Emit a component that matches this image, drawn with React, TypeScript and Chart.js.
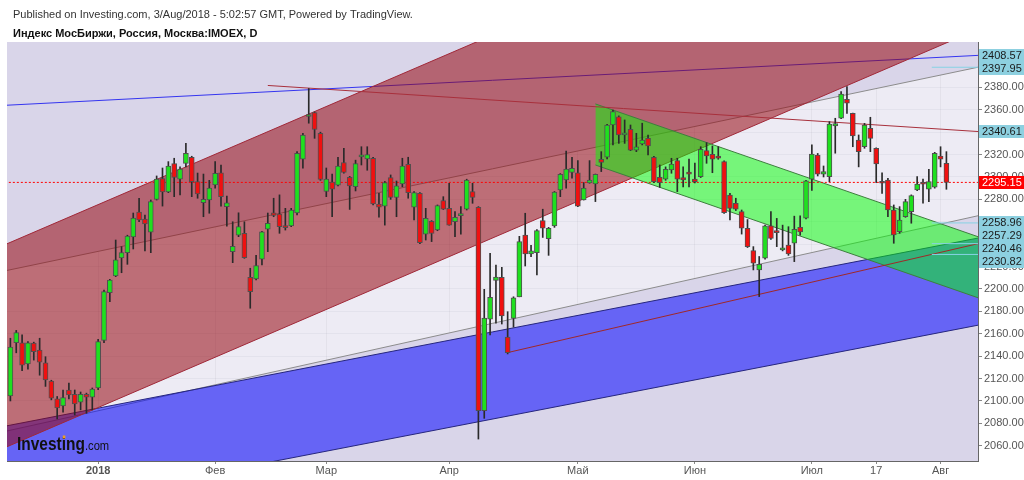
import React, { useEffect, useRef } from "react";
import { Chart, registerables } from "chart.js";
Chart.register(...registerables);

const FONT = "Arial, 'Liberation Sans', sans-serif";

// ---- OHLC data (one candle per trading day, index 0..160) ----
const opens = [
  2104.5, 2152, 2152, 2133, 2151.7, 2145.5, 2134, 2117.8, 2101.8, 2095.5,
  2109.8, 2106, 2099, 2106, 2103.5, 2111.6, 2154, 2196.7, 2211.6, 2227.7,
  2232.4, 2246.4, 2268.7, 2262.5, 2250.6, 2280, 2298.5, 2286.6, 2312, 2298,
  2312, 2317.6, 2295.8, 2277, 2279.4, 2293, 2303.8, 2273.5, 2233.3, 2248,
  2249.7, 2210.4, 2209, 2226.5, 2253.3, 2268, 2266.9, 2256, 2256.3, 2268,
  2315.8, 2354, 2357.4, 2339, 2287, 2295.5, 2292.6, 2312.8, 2299.7, 2291.3,
  2318, 2316, 2316.7, 2275.9, 2274, 2299.4, 2281.8, 2293.8, 2311.3, 2273,
  2285.4, 2249, 2260.4, 2252.7, 2278.9, 2272, 2260, 2265.5, 2271.2, 2286.9,
  2272.9, 2091.3, 2173, 2207.7, 2210.4, 2157, 2173.8, 2193, 2248, 2231.2,
  2232.4, 2261, 2245, 2256.3, 2288.4, 2297.3, 2304, 2303.8, 2279.4, 2294.6,
  2293.7, 2315.8, 2317.6, 2346.4, 2353.8, 2337.5, 2342.6, 2324, 2329.4, 2334.5,
  2317.6, 2299.7, 2298, 2306.2, 2314.6, 2299.4, 2304, 2298, 2300.3, 2323.5,
  2320.3, 2318.7, 2313.7, 2283.9, 2276.5, 2269, 2254.2, 2234.2, 2217, 2227.4,
  2256.3, 2251.8, 2234.8, 2239.2, 2240.8, 2255, 2263.1, 2298, 2319.6, 2302.4,
  2300.3, 2345.6, 2352.4, 2369.4, 2356.8, 2333, 2327, 2343.5, 2325.6, 2295.8,
  2297.3, 2270.5, 2251.1, 2264.5, 2269, 2288.4, 2295, 2289, 2290.8, 2318.7,
  2312.2,
];
const highs = [
  2156, 2163, 2159, 2153, 2152.5, 2156, 2139.5, 2118.5, 2104, 2109.8,
  2116, 2109.8, 2108, 2107, 2111.6, 2155, 2199, 2208.5, 2243.7, 2237.8,
  2248, 2267.8, 2281, 2266, 2279.4, 2300.9, 2308, 2313.7, 2316.7, 2309,
  2330, 2318.5, 2303.5, 2302.6, 2297, 2313.7, 2310.7, 2283, 2260, 2268,
  2260, 2218.5, 2230, 2251.5, 2267.8, 2281, 2284, 2272, 2272, 2322.6,
  2339, 2379, 2358, 2340, 2308, 2302.5, 2317.6, 2325.6, 2300.5, 2315,
  2327, 2327, 2317.5, 2285.4, 2296, 2301.8, 2296.4, 2316.7, 2317.6, 2287,
  2286, 2272, 2261, 2275, 2282.4, 2294.4, 2269, 2273.5, 2298, 2294.4,
  2273.5, 2199.7, 2231.8, 2221.4, 2219.3, 2179.7, 2193, 2247, 2267.6, 2239,
  2253, 2271.2, 2255, 2287, 2303, 2323, 2317.6, 2314.6, 2295, 2314.6,
  2302.6, 2322.6, 2347, 2359.8, 2354.5, 2350.9, 2346.4, 2339, 2348, 2337.5,
  2318.5, 2310.7, 2309, 2316.7, 2316.7, 2309, 2316, 2312.5, 2327, 2330.6,
  2327.7, 2327, 2314.5, 2285.4, 2281, 2270.5, 2262, 2237.8, 2229, 2257,
  2269, 2263, 2257, 2255.6, 2265, 2265.2, 2297, 2328.6, 2321, 2309.8,
  2349.4, 2352.4, 2376.2, 2380.6, 2357, 2337.5, 2347.9, 2353.3, 2326, 2303.8,
  2298.8, 2275, 2273.5, 2280, 2284, 2300.3, 2298, 2306.9, 2322, 2327,
  2322.6,
];
const lows = [
  2100, 2143, 2127, 2128.5, 2136.5, 2123, 2113, 2101, 2084, 2090,
  2101.8, 2087.5, 2092, 2089, 2092, 2110, 2152, 2188.7, 2211, 2214.5,
  2222, 2235.7, 2260, 2234, 2232.4, 2279.4, 2274, 2286, 2282.4, 2284,
  2309, 2282.4, 2281, 2264.5, 2267.6, 2290, 2274, 2256, 2223.5, 2246.7,
  2227.4, 2182.8, 2208, 2221.4, 2233.3, 2264.5, 2249.7, 2252.6, 2255.6, 2266,
  2307.8, 2348, 2334.5, 2297, 2282.4, 2264.5, 2292, 2303.3, 2271, 2287.5,
  2310.7, 2306, 2275, 2264, 2257, 2280, 2264.5, 2291.3, 2281, 2261.6,
  2240.5, 2243.7, 2242.3, 2252, 2271, 2257, 2246.7, 2249, 2270.5, 2276.5,
  2066, 2084.5, 2159, 2169.4, 2168.7, 2142, 2166, 2193, 2220.5, 2228.8,
  2212.5, 2246, 2230, 2255, 2282.4, 2290, 2299, 2273.5, 2279.4, 2294.4,
  2278, 2304.8, 2316, 2328.6, 2330, 2330, 2323.5, 2322.6, 2328.6, 2319.6,
  2295, 2290.7, 2297, 2303.3, 2286.9, 2291, 2291, 2294.6, 2299.5, 2312.2,
  2303.8, 2315.8, 2267.5, 2261.6, 2270, 2249, 2237, 2217, 2193.2, 2226.5,
  2244.3, 2237.8, 2234, 2230, 2224.4, 2248, 2262.5, 2288, 2300.9, 2300,
  2295.8, 2321.2, 2352, 2356.8, 2327, 2309, 2325.6, 2322.6, 2295, 2285.4,
  2264.5, 2240.8, 2249.7, 2264, 2258.7, 2287.8, 2276.5, 2278, 2290, 2309,
  2289,
];
const closes = [
  2148.2, 2161, 2132, 2152, 2144, 2134.7, 2118.7, 2102.6, 2093.7, 2103,
  2105.3, 2097.3, 2106, 2103.5, 2110.7, 2153, 2197.6, 2208, 2226, 2232.4,
  2247.3, 2263.3, 2261.6, 2258, 2278, 2298, 2286.6, 2309.8, 2299.7, 2307,
  2321, 2295.8, 2284.8, 2280, 2290, 2303.3, 2282.4, 2277, 2238, 2255.6,
  2228, 2197.6, 2220.8, 2251, 2258.7, 2265.7, 2255.6, 2254.7, 2270.5, 2321,
  2337.5, 2355, 2342.4, 2297.8, 2298, 2289, 2309.8, 2304, 2292, 2312,
  2319, 2320, 2275.9, 2273, 2295, 2281.8, 2292, 2309.8, 2286, 2286,
  2241.3, 2263, 2249.7, 2274.4, 2271.2, 2257, 2264, 2266.5, 2297.3, 2281.8,
  2091.3, 2174, 2192.6, 2210.5, 2175.9, 2143.2, 2192, 2242.2, 2231.2, 2234,
  2252.1, 2254.2, 2254.2, 2286.4, 2302.4, 2307, 2307.8, 2274, 2290, 2297.3,
  2302.4, 2313, 2346.4, 2358.3, 2337.5, 2339.5, 2324, 2327, 2333, 2327.7,
  2295.8, 2294.9, 2306.9, 2311.6, 2298, 2297.3, 2302.6, 2295.8, 2324.7, 2318.7,
  2315.8, 2316.7, 2268.1, 2272, 2271.2, 2254.2, 2237.8, 2223, 2222, 2256.3,
  2245.2, 2250.3, 2236.8, 2231.2, 2253.3, 2251, 2296.6, 2320.5, 2302.6, 2304.7,
  2347.3, 2347.6, 2374, 2365.8, 2336.6, 2322.6, 2346.4, 2334.5, 2311.6, 2294.4,
  2270.5, 2248.2, 2261.6, 2278, 2283.3, 2293.7, 2293.5, 2295.8, 2321.2, 2315.8,
  2295.15,
];

// ---- axis ticks ----
const xTickIndex = [15, 35, 54, 75, 97, 117, 137, 148, 159];
const xTickLabels = ["2018", "Фев", "Мар", "Апр", "Май", "Июн", "Июл", "17", "Авг"];
const yTickValues = [2060, 2080, 2100, 2120, 2140, 2160, 2180, 2200, 2220, 2240, 2260, 2280, 2300, 2320, 2340, 2360, 2380, 2400];

// ---- drawings: endpoints as [bar index, price] ----
const trendUpperGray = [[-3, 2213.9], [170, 2403.0]];
const trendLowerGray = [[-3, 2070.4], [170, 2270.7]];
const blueChannelTop = [[-3, 2075.4], [170, 2250.1]];
const blueChannelBottom = [[-3, 1997.6], [170, 2172.3]];
const redChannelTop = [[-3, 2234.9], [170, 2623.4]];
const redChannelBottom = [[-3, 2053.7], [170, 2442.2]];
const greenChannelTop = [[100, 2365.2], [170, 2238.3]];
const greenChannelBottom = [[100, 2310.7], [170, 2183.8]];
const blueTrend = [[-3, 2363.4], [170, 2409.8]];
const redDownTrend = [[44, 2381.7], [170, 2339.0]];
const darkRedTrend = [[85, 2143.2], [170, 2246.0]];
const lastPrice = 2295.15;
const cyanLevels = [2397.95, 2258.96, 2240.46, 2230.82];
const cyanStart = 157.5;

// ---- right-axis price tags ----
const tagValues = [2408.57, 2397.95, 2340.61, 2295.15, 2258.96, 2257.29, 2240.46, 2230.82];
const tagIsLast = [false, false, false, true, false, false, false, false];

const pts = (arr: number[][]) => arr.map(([x, y]) => ({ x, y }));

function lineDs(points: number[][], color: string, order: number, extra: any = {}) {
  return {
    type: "line",
    data: pts(points),
    borderColor: color,
    borderWidth: 1,
    pointRadius: 0,
    tension: 0,
    fill: false,
    order,
    ...extra,
  };
}

const bgPlugin = {
  id: "bg",
  beforeDraw(chart: any) {
    const { ctx, chartArea: a } = chart;
    ctx.save();
    ctx.fillStyle = "#ffffff";
    ctx.fillRect(0, 0, chart.width, chart.height);
    ctx.fillStyle = "#edebf4";
    ctx.fillRect(a.left, a.top, a.right - a.left, a.bottom - a.top);
    ctx.restore();
  },
};

const overlayPlugin = {
  id: "overlay",
  afterDraw(chart: any) {
    const { ctx, chartArea: a } = chart;
    const ys = chart.scales.y;
    ctx.save();
    // header
    ctx.textBaseline = "alphabetic";
    ctx.textAlign = "left";
    ctx.fillStyle = "#333";
    ctx.font = `11px ${FONT}`;
    ctx.fillText("Published on Investing.com, 3/Aug/2018 - 5:02:57 GMT, Powered by TradingView.", 13, 18);
    ctx.fillStyle = "#111";
    ctx.font = `bold 11px ${FONT}`;
    ctx.fillText("Индекс МосБиржи, Россия, Москва:IMOEX, D", 13, 37);

    // logo
    ctx.save();
    ctx.translate(17, 450);
    ctx.scale(0.86, 1);
    ctx.fillStyle = "#111";
    ctx.font = `bold 18px ${FONT}`;
    const w1 = ctx.measureText("Investing").width;
    const wi = ctx.measureText("Invest").width;
    ctx.fillText("Investing", 0, 0);
    ctx.font = `13px ${FONT}`;
    ctx.fillText(".com", w1, 0);
    ctx.fillStyle = "#f0a020";
    ctx.fillRect(wi + 1.2, -14.5, 3, 3);
    ctx.restore();

    // price tags
    const tags = tagValues
      .map((v, k) => ({ v, last: tagIsLast[k], y: ys.getPixelForValue(v) }))
      .sort((p, q) => p.y - q.y);
    let prev = -1e9;
    for (const t of tags) {
      if (t.y < prev + 13) t.y = prev + 13;
      prev = t.y;
    }
    ctx.font = `11px ${FONT}`;
    ctx.textBaseline = "middle";
    for (const t of tags) {
      ctx.fillStyle = t.last ? "#ff0000" : "#8dd0e0";
      ctx.fillRect(a.right + 1, Math.round(t.y - 6.5), 1024 - a.right - 1, 13);
      ctx.fillStyle = t.last ? "#ffffff" : "#1a1a1a";
      ctx.fillText(t.v.toFixed(2), a.right + 4, t.y + 0.5);
    }
    ctx.restore();
  },
};

export default function App() {
  const ref = useRef<HTMLCanvasElement | null>(null);
  useEffect(() => {
    if (!ref.current) return;
    const idx = opens.map((_, i) => i);
    const bodyColors = idx.map((i) => (closes[i] >= opens[i] ? "#1fe01f" : "#f01010"));
    const datasets: any[] = [
      {
        type: "bar",
        data: idx.map((i) => ({ x: i, y: [opens[i], closes[i]] })),
        backgroundColor: bodyColors,
        borderColor: "#505050",
        borderWidth: 1,
        borderSkipped: false,
        barThickness: 5,
        grouped: false,
        minBarLength: 2,
        order: 0,
      },
      {
        type: "bar",
        data: idx.map((i) => ({ x: i, y: [lows[i], highs[i]] })),
        backgroundColor: "#2a2a2a",
        borderWidth: 0,
        barThickness: 1,
        grouped: false,
        order: 1,
      },
      lineDs([[-3, lastPrice], [170, lastPrice]], "#ff0000", 2, { borderDash: [2, 2] }),
      ...cyanLevels.map((v) => lineDs([[cyanStart, v], [170, v]], "#86d2e4", 2)),
      lineDs(redDownTrend, "#a8303c", 3),
      lineDs(darkRedTrend, "#a02828", 3),
      lineDs(greenChannelTop, "#3d7f3d", 4, { fill: "+1", backgroundColor: "rgba(0,255,0,0.5)" }),
      lineDs(greenChannelBottom, "#3d7f3d", 3.9),
      lineDs(redChannelTop, "#a02838", 5, { fill: "+1", backgroundColor: "rgba(150,8,16,0.55)" }),
      lineDs(redChannelBottom, "#a02838", 4.9),
      lineDs(blueTrend, "#3535f0", 6),
      lineDs(blueChannelTop, "#26267e", 7, { fill: "+1", backgroundColor: "rgba(0,0,255,0.53)" }),
      lineDs(blueChannelBottom, "#26267e", 6.9),
      lineDs(trendLowerGray, "#8c8c8c", 8, { fill: "start", backgroundColor: "#d9d5e9" }),
      lineDs(trendUpperGray, "#8c8c8c", 9, { fill: "end", backgroundColor: "#d9d5e9" }),
    ];

    const chart = new Chart(ref.current, {
      type: "bar",
      data: { datasets },
      plugins: [bgPlugin, overlayPlugin],
      options: {
        animation: false,
        responsive: false,
        maintainAspectRatio: false,
        layout: { padding: { left: 7, top: 42, right: 0, bottom: 0 } },
        plugins: {
          legend: { display: false },
          tooltip: { enabled: false },
          title: { display: false },
        },
        scales: {
          x: {
            type: "linear",
            min: -0.58,
            max: 165.4,
            offset: false,
            afterBuildTicks: (s: any) => {
              s.ticks = xTickIndex.map((v) => ({ value: v }));
            },
            afterFit: (s: any) => {
              s.height = 19;
            },
            ticks: {
              autoSkip: false,
              maxRotation: 0,
              padding: 0,
              color: "#555",
              font: (c: any) => ({
                family: FONT,
                size: 11,
                weight: c.tick && c.tick.value === 15 ? "bold" : "normal",
              }),
              callback: (_v: any, i: number) => xTickLabels[i],
            },
            grid: {
              offset: false,
              color: "rgba(60,60,90,0.06)",
              tickLength: 3,
              tickColor: "#888",
            },
            border: { display: true, color: "#666", width: 1 },
          },
          y: {
            type: "linear",
            position: "right",
            min: 2046.4,
            max: 2420.5,
            afterBuildTicks: (s: any) => {
              s.ticks = yTickValues.map((v) => ({ value: v }));
            },
            afterFit: (s: any) => {
              s.width = 46;
            },
            ticks: {
              padding: 2,
              color: "#555",
              font: { family: FONT, size: 11 },
              callback: (v: any) => Number(v).toFixed(2),
            },
            grid: {
              color: "rgba(60,60,90,0.05)",
              tickLength: 4,
              tickColor: "#888",
            },
            border: { display: true, color: "#666", width: 1 },
          },
        },
      } as any,
    } as any);
    return () => chart.destroy();
  }, []);

  return (
    <div style={{ position: "fixed", left: 0, top: 0, width: 1024, height: 480, background: "#fff" }}>
      <canvas ref={ref} width={1024} height={480} style={{ width: 1024, height: 480, display: "block" }} />
    </div>
  );
}
